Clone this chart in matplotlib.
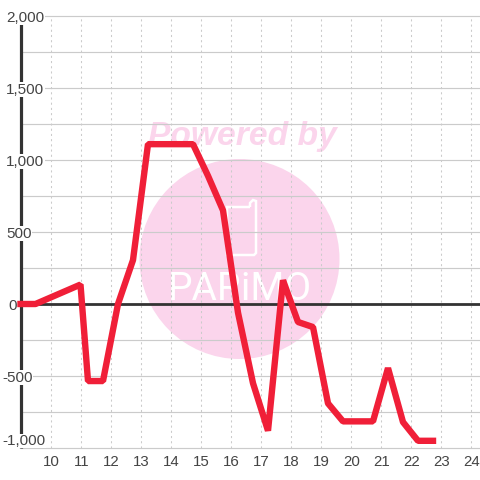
import matplotlib
matplotlib.use("Agg")
import matplotlib.pyplot as plt
from matplotlib.patches import Circle, PathPatch
from matplotlib.path import Path
from matplotlib.transforms import Affine2D

hours = [9, 9.5, 11, 11.25, 11.75, 12.25, 12.75, 13.25, 13.75, 14.25, 14.75, 15.25, 15.75,
         16.25, 16.75, 17.25, 17.75, 18.25, 18.75, 19.25, 19.75, 20.25, 20.75, 21.25,
         21.75, 22.25, 22.75]
values = [0, 0, 135, -535, -535, 0, 305, 1110, 1110, 1110, 1110, 890, 650,
          -60, -550, -880, 165, -125, -160, -690, -815, -815, -815, -445,
          -820, -950, -950]
x_ticks = list(range(10, 25))
y_major = [-1000, -500, 0, 500, 1000, 1500, 2000]
y_labels = ["-1,000", "-500", "0", "500", "1,000", "1,500", "2,000"]
y_minor = [-750, -250, 250, 750, 1250, 1750]
y_pads = [18.5, 18.5, 12.5, 14.5, 14.5, 14.5, 14.5]

W = H = 480
plt.rcParams["font.family"] = ["Liberation Sans", "DejaVu Sans"]
fig = plt.figure(figsize=(4.8, 4.8), dpi=100, facecolor="white")
L, R, T, B = 20.5, 480, 16, 448
ax = fig.add_axes([L / W, 1 - B / H, (R - L) / W, (B - T) / H])
ax.patch.set_visible(False)
ax.set_xlim(9, 9 + (R - L) / 30)
ax.set_ylim(-1000, 2000)
for s in ax.spines.values():
    s.set_visible(False)

# watermark (pixel coordinates, behind the axes)
px = Affine2D().scale(1, -1).translate(0, H)
pink = "#fbd5ec"
fig.add_artist(Circle((239.5, 259), 100, transform=px, fc=pink, ec="none", zorder=-3))
logo = Path([(250, 207), (227, 207), (227, 255), (254, 255), (256, 253), (256, 201), (253, 200), (250, 203), (250, 207)])
fig.add_artist(PathPatch(logo, transform=px, fc="none", ec="white", lw=1.8, zorder=-2))
fig.text(148 / W, 1 - 136 / H, "Powered by", color=pink, fontsize=24.2, weight="bold",
         style="italic", va="center", ha="left", zorder=-2)
fig.text(239.5 / W, 1 - 290 / H, "PARiMO", color="white", fontsize=28, family="Roboto",
         weight="normal", va="center", ha="center", zorder=-2)

grid = "#cbcbcb"
for v in y_major + y_minor:
    ax.axhline(v, color=grid, lw=0.85, zorder=1, clip_on=False)
for h in x_ticks:
    ax.axvline(h, color=grid, lw=0.75, ls=(0, (2, 3)), zorder=1)
ax.axvline(9, color="#333333", lw=2.3, zorder=2, clip_on=False, solid_capstyle="butt")
ax.axhline(0, color="#333333", lw=2.0, zorder=2)
ax.plot(hours, values, color="#f01f38", lw=4.6, zorder=3, clip_on=False,
        solid_capstyle="projecting", solid_joinstyle="bevel")

ax.set_xticks(x_ticks)
ax.set_yticks(y_major)
ax.set_yticklabels(y_labels)
ax.yaxis.set_zorder(4)
ax.xaxis.set_zorder(4)
ax.tick_params(axis="x", length=0, pad=5.2, labelsize=10.8, labelcolor="#444444")
ax.tick_params(axis="y", length=0, labelsize=11, labelcolor="#444444")
for lab in ax.get_xticklabels():
    lab.set_transform(lab.get_transform() + Affine2D().translate(1, 0))
for tick, pad in zip(ax.yaxis.get_major_ticks(), y_pads):
    tick.set_pad(pad * 72 / 100)
    tick.label1.set_ha("left")
    tick.label1.set_bbox(dict(fc="white", ec="none", pad=0.3))
ax.yaxis.get_major_ticks()[0].label1.set_va("bottom")
ax.grid(False)
fig.savefig("out.png", dpi=100)
